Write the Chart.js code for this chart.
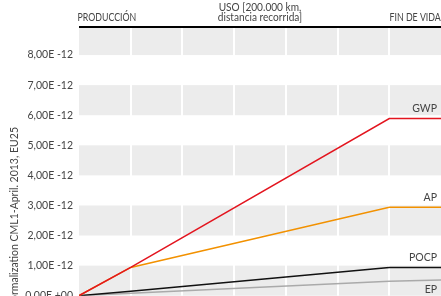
<!DOCTYPE html>
<html>
<head>
<meta charset="utf-8">
<script src="https://cdn.jsdelivr.net/npm/chart.js@4.4.1/dist/chart.umd.min.js"></script>
<style>
  html, body { margin: 0; padding: 0; background: #fff; overflow: hidden; }
  #wrap { width: 441px; height: 296px; overflow: hidden; }
</style>
</head>
<body>
<div id="wrap"><canvas id="myChart" width="441" height="308"></canvas></div>
<script>
// x positions: start, end of production, end of use, end of life
const steps = [0, 1, 6, 7];
const phases = ['PRODUCCIÓN', ['USO [200.000 km,', 'distancia recorrida]'], 'FIN DE VIDA'];
const phaseAt = [0.5, 3.5, 6.5];

const names = ['GWP', 'AP', 'POCP', 'EP'];
const gwp  = [0, 0.94, 5.89, 5.89];
const ap   = [0, 0.94, 2.94, 2.94];
const pocp = [0, 0.15, 0.94, 0.94];
const ep   = [0, 0.08, 0.48, 0.52];
const colors = ['#e3151f', '#f29100', '#111111', '#aaaaaa'];

const yTicks = [0, 1, 2, 3, 4, 5, 6, 7, 8];
const yTitle = 'Normalization CML1-April. 2013, EU25';

const FONT = 'Lato, sans-serif';

function fmt(v){
  if (v === 0) return '0,00E +00';
  return v.toFixed(2).replace('.', ',') + 'E -12';
}

// draw text squeezed horizontally (reference uses a condensed face)
function narrowText(ctx, s, x, y, k){
  ctx.save();
  ctx.translate(x, y);
  ctx.scale(k, 1);
  ctx.fillText(s, 0, 0);
  ctx.restore();
}

const bgPlugin = {
  id: 'bands',
  beforeDatasetsDraw(chart){
    const {ctx, chartArea: a, scales: {x, y}} = chart;
    ctx.save();
    ctx.fillStyle = '#ececec';
    for (let v = 0; v < 10; v += 2){
      let t = Math.max(y.getPixelForValue(v + 1), a.top);
      let b = Math.min(y.getPixelForValue(v), a.bottom);
      if (b > t) ctx.fillRect(a.left, t, a.right - a.left, b - t);
    }
    // white column separators
    ctx.strokeStyle = '#fff';
    ctx.lineWidth = 2;
    for (let k = 1; k < 7; k++){
      const px = Math.round(x.getPixelForValue(k));
      ctx.beginPath();
      ctx.moveTo(px, a.top);
      ctx.lineTo(px, a.bottom);
      ctx.stroke();
    }
    ctx.restore();
  },
  afterDraw(chart){
    const {ctx, chartArea: a, scales: {x}} = chart;
    ctx.save();
    // header rule
    ctx.strokeStyle = '#000';
    ctx.lineWidth = 2;
    ctx.beginPath();
    ctx.moveTo(a.left, a.top - 1);
    ctx.lineTo(a.right, a.top - 1);
    ctx.stroke();

    ctx.fillStyle = '#444';
    ctx.font = '11px ' + FONT;
    ctx.textBaseline = 'alphabetic';
    ctx.textAlign = 'center';
    phases.forEach((p, i) => {
      const lines = Array.isArray(p) ? p : [p];
      const cx = x.getPixelForValue(phaseAt[i]) + (i === 0 ? 2 : 0);
      lines.forEach((l, j) => {
        narrowText(ctx, l, cx, 21 - (lines.length - 1 - j) * 10, i === 1 ? 0.92 : 0.8);
      });
    });

    // series labels at the right end
    ctx.font = '10.5px ' + FONT;
    chart.data.datasets.forEach((ds, i) => {
      const meta = chart.getDatasetMeta(i);
      const last = meta.data[meta.data.length - 1];
      ctx.textAlign = 'right';
      ctx.textBaseline = 'middle';
      const off = names[i] === 'EP' ? 10 : -10;
      ctx.fillText(names[i], a.right - 4, last.y + off);
    });

    // y axis title
    ctx.translate(15, 127);
    ctx.rotate(-Math.PI / 2);
    ctx.textAlign = 'right';
    ctx.textBaseline = 'middle';
    ctx.font = '10.5px ' + FONT;
    ctx.fillText(yTitle, 0, 0);
    ctx.restore();
  }
};

const series = [gwp, ap, pocp, ep];

new Chart(document.getElementById('myChart'), {
  type: 'line',
  data: {
    datasets: series.map((s, i) => ({
      label: names[i],
      data: s.map((v, k) => ({x: steps[k], y: v})),
      borderColor: colors[i],
      borderWidth: 1.5,
      pointRadius: 0,
      tension: 0,
      fill: false
    }))
  },
  options: {
    responsive: false,
    animation: false,
    layout: { autoPadding: false, padding: { top: 28, left: 0, right: 0, bottom: 0 } },
    plugins: { legend: { display: false }, tooltip: { enabled: false } },
    scales: {
      x: {
        type: 'linear',
        min: 0,
        max: 7,
        display: false
      },
      y: {
        min: 0,
        max: 8.9,
        afterBuildTicks(scale){ scale.ticks = yTicks.map(v => ({value: v})); },
        afterFit(scale){ scale.width = 79; },
        ticks: {
          callback: v => fmt(v),
          color: '#444',
          padding: 6,
          font: { family: FONT, size: 10.5 }
        },
        grid: { display: false, drawTicks: false },
        border: { display: false }
      }
    }
  },
  plugins: [bgPlugin]
});
</script>
</body>
</html>
